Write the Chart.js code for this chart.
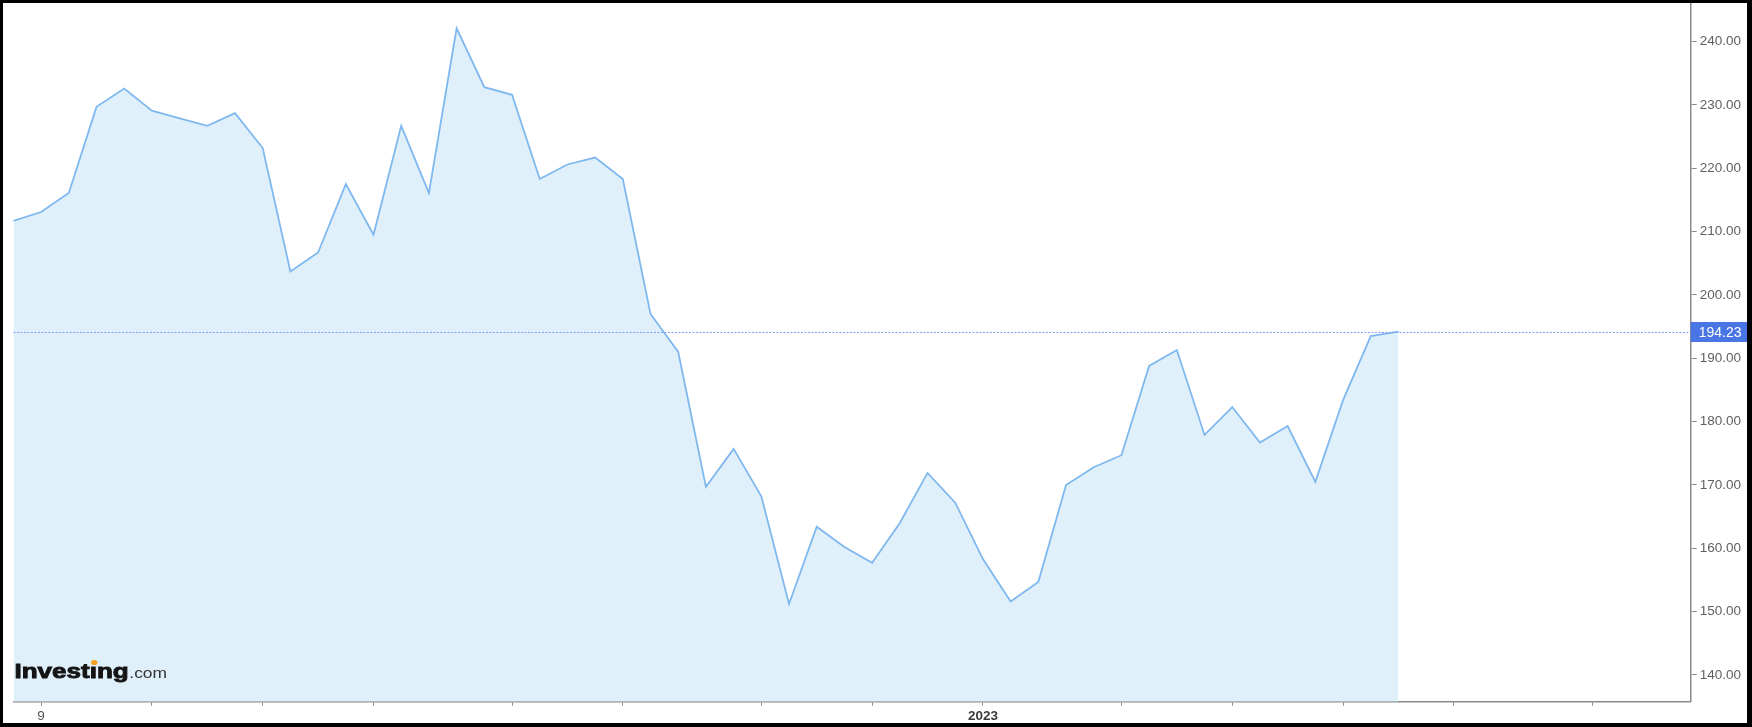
<!DOCTYPE html>
<html>
<head>
<meta charset="utf-8">
<script src="https://cdn.jsdelivr.net/npm/chart.js@4.4.1/dist/chart.umd.min.js"></script>
<style>
  html, body { margin: 0; padding: 0; background: #000; }
  #frame { position: absolute; left: 3px; top: 3px; width: 1744px; height: 720px; background: #fff; }
  canvas { display: block; }
</style>
</head>
<body>
<div id="frame"><canvas id="canvas" width="1744" height="720"></canvas></div>
<script>
/* DATA - weekly closes */
var WEEKLY_CLOSE = [
  211.7, 213.1, 216.1, 229.7, 232.6, 229.1, 227.9, 226.7, 228.7, 223.2,
  203.7, 206.7, 217.5, 209.5, 226.7, 216.1, 242.1, 232.8, 231.6, 218.3,
  220.6, 221.7, 218.3, 197.0, 191.0, 169.7, 175.7, 168.2, 151.2, 163.4,
  160.2, 157.7, 164.0, 171.9, 167.2, 158.3, 151.6, 154.7, 170.0, 172.8,
  174.7, 188.8, 191.3, 177.9, 182.3, 176.7, 179.3, 170.5, 183.4, 193.5,
  194.23
];
// month ticks (week index) and the labels that show under them
var MONTH_TICK_WEEK = [1, 5, 9, 13, 18, 22, 27, 31, 35, 40, 44, 48, 52, 57];
var MONTH_TICK_LABEL = ["9", "", "", "", "", "", "", "", "2023", "", "", "", "", ""];
var PRICE_TICKS = [140, 150, 160, 170, 180, 190, 200, 210, 220, 230, 240];
var LAST_PRICE = WEEKLY_CLOSE[WEEKLY_CLOSE.length - 1];

var FONT = "'Liberation Sans', Arial, sans-serif";

// build points for the linear x scale
var points = [];
for (var i = 0; i < WEEKLY_CLOSE.length; i++) {
  points.push({ x: i, y: WEEKLY_CLOSE[i] });
}

/* PLUGIN - current price line, price badge, logo */
var lastPricePlugin = {
  id: 'lastPrice',
  afterDatasetsDraw: function(chart) {
    var ctx = chart.ctx;
    var area = chart.chartArea;
    var y = Math.round(chart.scales.y.getPixelForValue(LAST_PRICE)) + 0.5;

    // logo (stretched + a bit of stroke to get the heavy look)
    ctx.save();
    ctx.translate(area.left + 1, 675);
    ctx.scale(1.24, 1);
    ctx.textBaseline = 'alphabetic';
    ctx.textAlign = 'left';
    ctx.fillStyle = '#141414';
    ctx.strokeStyle = '#141414';
    ctx.lineWidth = 0.9;
    ctx.font = 'bold 21px ' + FONT;
    var x = 0;
    ctx.fillText('Invest', x, 0);
    ctx.strokeText('Invest', x, 0);
    x += ctx.measureText('Invest').width;
    ctx.fillText('\u0131', x, 0);
    ctx.strokeText('\u0131', x, 0);
    var iw = ctx.measureText('\u0131').width;
    ctx.fillStyle = '#f4a11d';
    ctx.beginPath();
    ctx.arc(x + iw / 2 + 0.8, -15.5, 2.6, 0, Math.PI * 2);
    ctx.fill();
    ctx.fillStyle = '#141414';
    x += iw;
    ctx.fillText('ng', x, 0);
    ctx.strokeText('ng', x, 0);
    x += ctx.measureText('ng').width + 0.5;
    ctx.fillStyle = '#333';
    ctx.font = '14px ' + FONT;
    ctx.fillText('.com', x, 0);
    ctx.restore();

    // dotted current price line
    ctx.save();
    ctx.strokeStyle = '#7c9ff3';
    ctx.lineWidth = 1.2;
    ctx.setLineDash([2, 1.5]);
    ctx.beginPath();
    ctx.moveTo(area.left, y);
    ctx.lineTo(area.right, y);
    ctx.stroke();
    ctx.restore();
  },
  afterDraw: function(chart) {
    var ctx = chart.ctx;
    var area = chart.chartArea;
    var y = chart.scales.y.getPixelForValue(LAST_PRICE);
    ctx.save();
    ctx.fillStyle = '#4a75e4';
    ctx.fillRect(area.right, Math.round(y) - 10, chart.width - area.right, 20);
    ctx.fillStyle = '#fff';
    ctx.font = '14px ' + FONT;
    ctx.textBaseline = 'middle';
    ctx.textAlign = 'left';
    ctx.fillText(LAST_PRICE.toFixed(2), area.right + 8, Math.round(y) + 1);
    ctx.restore();
  }
};

/* CHART */
var ctx = document.getElementById('canvas').getContext('2d');
window.myLine = new Chart(ctx, {
  type: 'line',
  data: {
    datasets: [{
      data: points,
      borderColor: '#7fb8ef',
      borderWidth: 1.8,
      backgroundColor: '#e0f0fa',
      fill: 'start',
      pointRadius: 0,
      tension: 0
    }]
  },
  options: {
    responsive: false,
    animation: false,
    devicePixelRatio: 1,
    layout: { padding: { left: 10.4, top: 0, right: 0, bottom: 0 } },
    plugins: {
      legend: { display: false },
      tooltip: { enabled: false }
    },
    scales: {
      x: {
        type: 'linear',
        min: 0,
        max: 60.55,
        grid: { drawOnChartArea: false, drawTicks: true, tickLength: 4, color: '#8a8a8a' },
        border: { display: true, color: '#8a8a8a', width: 1.5 },
        ticks: {
          autoSkip: false,
          maxRotation: 0,
          padding: 2,
          color: function(c) { return c.tick && c.tick.value === 35 ? '#3a3a3a' : '#555'; },
          font: function(c) {
            var bold = c.tick && c.tick.value === 35;
            return { family: FONT, size: 13.5, weight: bold ? 'bold' : 'normal' };
          },
          callback: function(value) {
            var k = MONTH_TICK_WEEK.indexOf(value);
            return k >= 0 ? MONTH_TICK_LABEL[k] : '';
          }
        },
        afterBuildTicks: function(scale) {
          scale.ticks = MONTH_TICK_WEEK.map(function(w) { return { value: w }; });
        },
        afterFit: function(scale) {
          scale.height = 21.3;
          scale.paddingLeft = 0;
          scale.paddingRight = 0;
        }
      },
      y: {
        position: 'right',
        min: 135.78,
        max: 246.1,
        grid: { drawOnChartArea: false, drawTicks: true, tickLength: 6, color: '#8a8a8a' },
        border: { display: true, color: '#8a8a8a', width: 1.5 },
        ticks: {
          padding: 3,
          color: '#5f5f5f',
          font: { family: FONT, size: 13.5 },
          callback: function(value) { return value.toFixed(2); }
        },
        afterBuildTicks: function(scale) {
          scale.ticks = PRICE_TICKS.map(function(v) { return { value: v }; });
        },
        afterFit: function(scale) {
          scale.width = 56.3;
          scale.paddingTop = 0;
          scale.paddingBottom = 0;
        }
      }
    }
  },
  plugins: [lastPricePlugin]
});
</script>
</body>
</html>
